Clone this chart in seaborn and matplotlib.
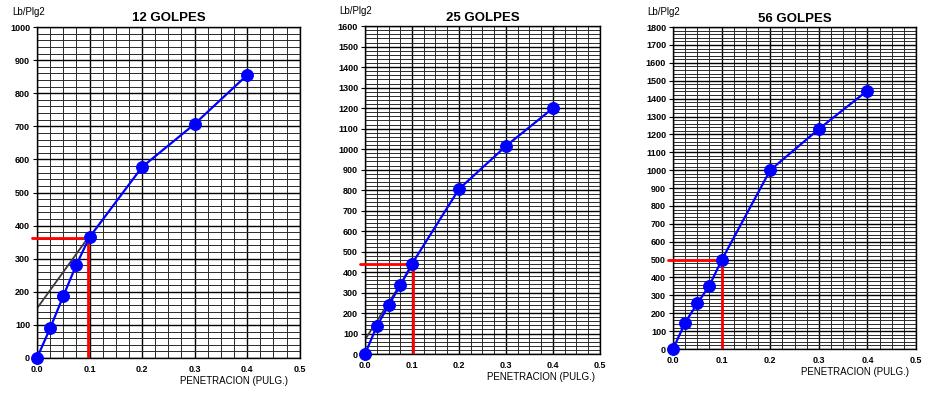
import numpy as np
import pandas as pd
import matplotlib
matplotlib.use("Agg")
import matplotlib.pyplot as plt
import seaborn as sns

# penetracion (pulg.) common to all tests
penetracion = [0.0, 0.025, 0.05, 0.075, 0.1, 0.2, 0.3, 0.4]

# carga (Lb/Plg2) per number of blows
carga_12 = [0, 90, 187, 282, 365, 577, 707, 855]
carga_25 = [0, 135, 237, 335, 440, 805, 1015, 1200]
carga_56 = [0, 148, 255, 355, 497, 1000, 1230, 1445]

titles = ["12 GOLPES", "25 GOLPES", "56 GOLPES"]
y_max = [1000, 1600, 1800]

# corrected value read at 0.1" (red guide)
corr_x = [0.097, 0.103, 0.1]
corr_y = [363, 440, 497]

# corrected tangent line (start at x=0)
tang_y0 = [150, 70, 0]

sns.set_style("white")
plt.rcParams["font.family"] = ["Liberation Sans", "DejaVu Sans"]
plt.rcParams["text.color"] = "black"
plt.rcParams["xtick.color"] = "black"
plt.rcParams["ytick.color"] = "black"
plt.rcParams["axes.labelcolor"] = "black"

fig = plt.figure(figsize=(9.25, 3.94), dpi=100)
boxes = [
    [0.040, 0.0914, 0.284, 0.840],
    [0.3946, 0.1015, 0.2540, 0.832],
    [0.7276, 0.1142, 0.2627, 0.817],
]

series = [carga_12, carga_25, carga_56]

for i, (box, carga) in enumerate(zip(boxes, series)):
    ax = fig.add_axes(box)
    df = pd.DataFrame({"x": penetracion, "y": carga})

    ax.set_xlim(0, 0.5)
    ax.set_ylim(0, y_max[i])
    ax.set_xticks(np.arange(0, 0.51, 0.1))
    ax.set_xticks(np.arange(0, 0.501, 0.025), minor=True)
    ax.set_yticks(np.arange(0, y_max[i] + 1, 100))
    ax.set_yticks(np.arange(0, y_max[i] + 1, 20), minor=True)
    ax.grid(which="major", color="black", linewidth=1.0, zorder=0)
    ax.grid(which="minor", color="#2a2a2a", linewidth=0.7, zorder=0)
    ax.set_axisbelow(True)

    # tangent correction line
    if tang_y0[i] > 0:
        ax.plot([0, corr_x[i]], [tang_y0[i], corr_y[i]], color="#3a3a3a",
                linewidth=1.3, zorder=2)

    # red guide lines
    ax.plot([-0.01, corr_x[i]], [corr_y[i], corr_y[i]], color="red",
            linewidth=2, zorder=3, clip_on=False)
    ax.plot([corr_x[i], corr_x[i]], [0, corr_y[i]], color="red",
            linewidth=2, zorder=3)

    sns.lineplot(data=df, x="x", y="y", ax=ax, color="blue", linewidth=1.6,
                 marker="o", markersize=8.5, markeredgecolor="blue",
                 zorder=4, clip_on=False)

    ax.set_xticklabels([f"{v:.1f}" for v in np.arange(0, 0.51, 0.1)],
                       fontsize=6.5, fontweight="bold")
    ax.set_yticklabels([str(int(v)) for v in np.arange(0, y_max[i] + 1, 100)],
                       fontsize=6.5, fontweight="bold")
    ax.tick_params(which="major", length=3, width=0.8, pad=2, color="black",
                   left=True, bottom=False)
    ax.tick_params(which="minor", length=0)
    for s in ax.spines.values():
        s.set_color("black")
        s.set_linewidth(1.0)

    ax.set_xlabel("")
    ax.set_ylabel("")
    ax.set_title(titles[i], fontsize=9.5, fontweight="bold", pad=4)
    ax.text(0.03, 1.03, "Lb/Plg2", transform=ax.transAxes, fontsize=7,
            ha="right", va="bottom")
    ax.text(0.75, -0.055, "PENETRACION (PULG.)", transform=ax.transAxes,
            fontsize=7, ha="center", va="top")

fig.savefig("out.png", dpi=100)
